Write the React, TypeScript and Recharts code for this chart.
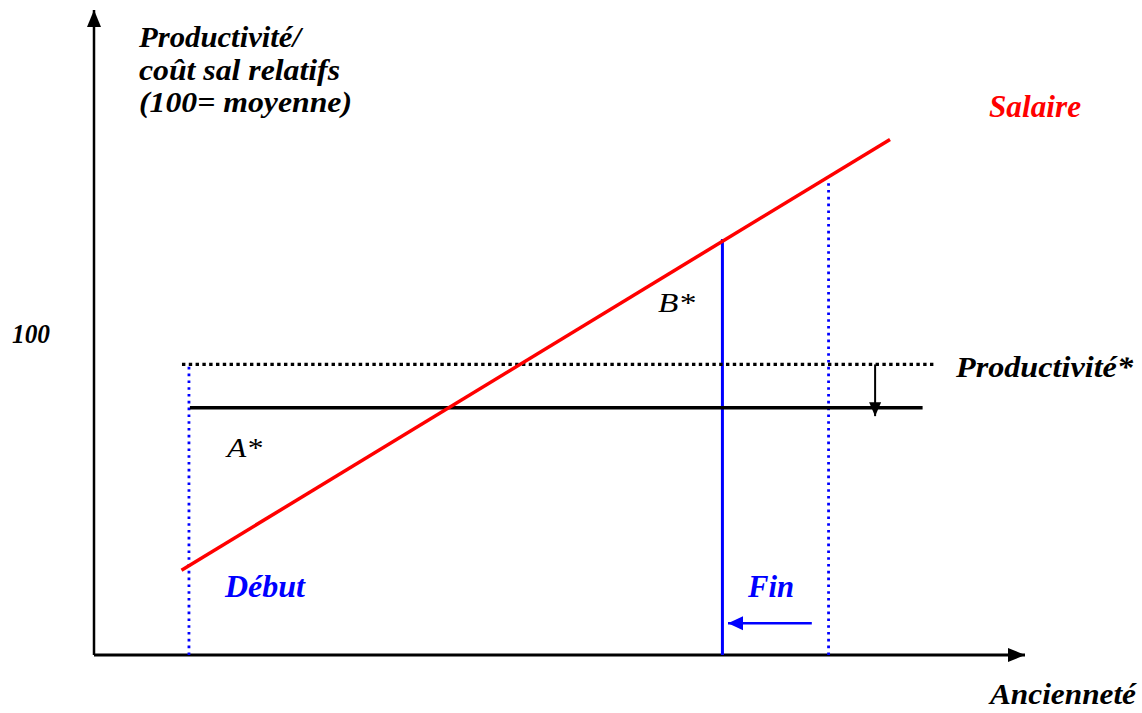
import React from "react"
import { ComposedChart, Line, Scatter, XAxis, YAxis } from "recharts"

// Ancienneté on x (0..100), productivité / coût salarial relatifs on y (0..200)
const axeX = [{ x: 0, y: 0 }, { x: 100, y: 0 }]
const axeY = [{ x: 0, y: 0 }, { x: 0, y: 200.9 }]

const salaire = [{ x: 9.4, y: 26.4 }, { x: 85.5, y: 160.6 }]
const productiviteInitiale = [{ x: 9.45, y: 90.5 }, { x: 90.3, y: 90.5 }]
const productiviteEtoile = [{ x: 10.3, y: 77.0 }, { x: 89.0, y: 77.0 }]

const debut = [{ x: 10.2, y: 0 }, { x: 10.2, y: 90.5 }]
const finInitiale = [{ x: 78.9, y: 0 }, { x: 78.9, y: 148.3 }]
const fin = [{ x: 67.5, y: 0 }, { x: 67.5, y: 129.6 }]

const baisseProductivite = [{ x: 83.9, y: 90.5 }, { x: 83.9, y: 74.4 }]
const baisseFin = [{ x: 77.1, y: 9.9 }, { x: 68.1, y: 9.9 }]

const pointesHaut = [{ x: 0, y: 200.9 }]
const pointesDroite = [{ x: 100, y: 0 }]
const pointesBas = [{ x: 83.9, y: 74.4 }]
const pointesGauche = [{ x: 68.1, y: 9.9 }]

const font = "Liberation Serif"

const up = (p: any) => (
  <polygon points={`${p.cx},${p.cy} ${p.cx - 7},${p.cy + 17} ${p.cx + 7},${p.cy + 17}`} fill="#000" />
)
const right = (p: any) => (
  <polygon points={`${p.cx},${p.cy} ${p.cx - 17},${p.cy - 7} ${p.cx - 17},${p.cy + 7}`} fill="#000" />
)
const down = (p: any) => (
  <polygon points={`${p.cx},${p.cy} ${p.cx - 6},${p.cy - 14} ${p.cx + 6},${p.cy - 14}`} fill="#000" />
)
const left = (p: any) => (
  <polygon points={`${p.cx},${p.cy} ${p.cx + 15},${p.cy - 7} ${p.cx + 15},${p.cy + 7}`} fill="#0000ff" />
)

const T = ({ x, y, w, size = 29, color = "#000", bold = true, children }: any) => (
  <text
    x={x}
    y={y}
    fill={color}
    fontFamily={font}
    fontStyle="italic"
    fontWeight={bold ? "bold" : "normal"}
    fontSize={size}
    textLength={w}
    lengthAdjust="spacingAndGlyphs"
  >
    {children}
  </text>
)

export default function App() {
  return (
    <div style={{ position: "absolute", left: 0, top: 0, width: 1142, height: 713, background: "#fff" }}>
      <ComposedChart width={1142} height={713} margin={{ top: 10, right: 117, bottom: 58, left: 94 }}>
        <XAxis type="number" dataKey="x" domain={[0, 100]} hide />
        <YAxis type="number" dataKey="y" domain={[0, 200]} hide />

        <Line data={axeX} dataKey="y" stroke="#000" strokeWidth={3} dot={false} isAnimationActive={false} />
        <Line data={axeY} dataKey="y" stroke="#000" strokeWidth={2.5} dot={false} isAnimationActive={false} />

        <Line data={debut} dataKey="y" stroke="#0000ff" strokeWidth={2.8} strokeDasharray="2.6 4.2"
          dot={false} isAnimationActive={false} />
        <Line data={finInitiale} dataKey="y" stroke="#0000ff" strokeWidth={2.8} strokeDasharray="2.6 4.2"
          dot={false} isAnimationActive={false} />
        <Line data={fin} dataKey="y" stroke="#0000ff" strokeWidth={3} dot={false} isAnimationActive={false} />

        <Line data={productiviteInitiale} dataKey="y" stroke="#000" strokeWidth={3.2} strokeDasharray="3.4 3.4"
          dot={false} isAnimationActive={false} />
        <Line data={productiviteEtoile} dataKey="y" stroke="#000" strokeWidth={3.5} dot={false} isAnimationActive={false} />
        <Line data={salaire} dataKey="y" stroke="#ff0000" strokeWidth={3.5} dot={false} isAnimationActive={false} />

        <Line data={baisseProductivite} dataKey="y" stroke="#000" strokeWidth={2} dot={false} isAnimationActive={false} />
        <Line data={baisseFin} dataKey="y" stroke="#0000ff" strokeWidth={2.5} dot={false} isAnimationActive={false} />

        <Scatter data={pointesHaut} dataKey="y" shape={up} isAnimationActive={false} />
        <Scatter data={pointesDroite} dataKey="y" shape={right} isAnimationActive={false} />
        <Scatter data={pointesBas} dataKey="y" shape={down} isAnimationActive={false} />
        <Scatter data={pointesGauche} dataKey="y" shape={left} isAnimationActive={false} />

        <T x={139} y={47} w={162}>Productivité/</T>
        <T x={139} y={80} w={201}>coût sal relatifs</T>
        <T x={139} y={112} w={213}>(100= moyenne)</T>
        <T x={989} y={117} w={92} size={31} color="#ff0000">Salaire</T>
        <T x={12} y={343} w={38} size={27}>100</T>
        <T x={956} y={377} w={177}>Productivité*</T>
        <T x={225} y={597} w={80} size={31} color="#0000ff">Début</T>
        <T x={748} y={597} w={46} size={31} color="#0000ff">Fin</T>
        <T x={990} y={704} w={146} size={30}>Ancienneté</T>
        <T x={658} y={312} w={37} size={27} bold={false}>B*</T>
        <T x={227} y={457} w={35} size={27} bold={false}>A*</T>
      </ComposedChart>
    </div>
  )
}
